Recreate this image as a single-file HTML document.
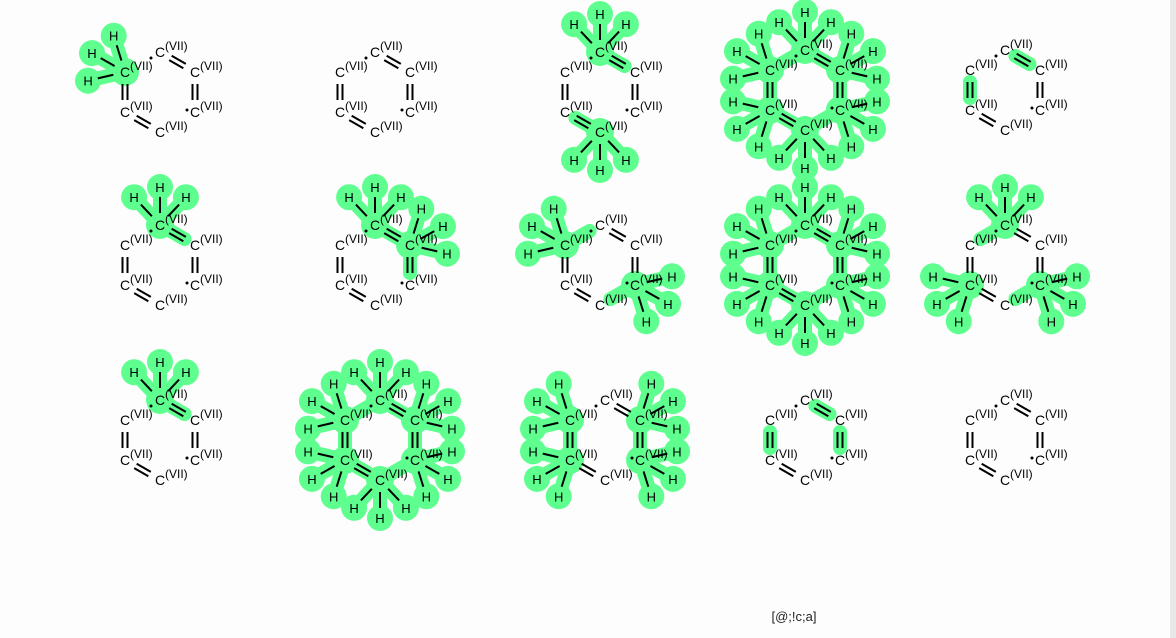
<!DOCTYPE html>
<html><head><meta charset="utf-8"><style>
html,body{margin:0;padding:0;background:#fdfdfd;}
svg{display:block;font-family:"Liberation Sans",sans-serif;}
</style></head><body>
<svg id="g" width="1176" height="638" viewBox="0 0 1176 638">
<rect x="0" y="0" width="1176" height="638" fill="#fdfdfd"/>
<rect x="1170" y="0" width="6" height="638" fill="#e8e8e8"/>
<text x="794" y="621" font-size="13" text-anchor="middle" fill="#222">[@;!c;a]</text>
</svg>
<script>
// molecule centers (column x, row y)
const centersX = [160,375,600,805,1005, 160,375,600,805,1005, 160,380,605,805,1005];
const centersY = [92,92,92,90,90, 265,265,265,265,265, 440,440,440,440,440];
// atom order: top, upper-right, lower-right, bottom, lower-left, upper-left; 1 = CH3 highlighted
const hydrogens = [
 [0,0,0,0,0,1],[0,0,0,0,0,0],[1,0,0,1,0,0],[1,1,1,1,1,1],[0,0,0,0,0,0],
 [1,0,0,0,0,0],[1,1,0,0,0,0],[0,0,1,0,0,1],[1,1,1,1,1,1],[1,0,1,0,1,0],
 [1,0,0,0,0,0],[1,1,1,1,1,1],[0,1,1,0,1,1],[0,0,0,0,0,0],[0,0,0,0,0,0]
];
// highlighted bonds (edge index i connects atom i and i+1)
const bondHi = [
 [],[],[0,3],[0,1,2,3,4,5],[0,4],
 [0],[0,1],[5,2],[0,1,2,3,4,5],[5,2],
 [0],[0,1,2,3,4,5],[1,4],[0,1,4],[]
];
const offs=[[0,-40],[35,-20],[35,20],[0,40],[-35,20],[-35,-20]];
const doubleEdges=[0,1,3,4];
const svg=document.getElementById('g');
const NS='http://www.w3.org/2000/svg';
function el(t,a,p){const e=document.createElementNS(NS,t);for(const k in a)e.setAttribute(k,a[k]);(p||svg).appendChild(e);return e;}
const G='#5eff8f';
for(let m=0;m<centersX.length;m++){
 const grp=el('g',{});
 
 
 const cx=centersX[m],cy=centersY[m];
 const P=offs.map(o=>[cx+o[0],cy+o[1]]);
 const hl=el('g',{},grp),ln=el('g',{},grp),tx=el('g',{},grp);
 for(let i=0;i<6;i++){
  const a=P[i],b=P[(i+1)%6];
  const dx=b[0]-a[0],dy=b[1]-a[1],L=Math.hypot(dx,dy),ux=dx/L,uy=dy/L,nx=-uy,ny=ux;
  const s=[a[0]+ux*12,a[1]+uy*12],e=[b[0]-ux*12,b[1]-uy*12];
  if(bondHi[m].includes(i)) el('line',{x1:s[0],y1:s[1],x2:e[0],y2:e[1],stroke:G,'stroke-width':14,'stroke-linecap':'round'},hl);
  if(doubleEdges.includes(i)){
   for(const d of [-2.5,2.5]) el('line',{x1:s[0]+nx*d,y1:s[1]+ny*d,x2:e[0]+nx*d,y2:e[1]+ny*d,stroke:'#000','stroke-width':2},ln);
  }
 }
 // radical dots
 el('circle',{cx:P[0][0]-9,cy:P[0][1]+6,r:1.5,fill:'#000'},tx);
 el('circle',{cx:P[2][0]-8,cy:P[2][1]-2,r:1.5,fill:'#000'},tx);
 for(let i=0;i<6;i++){
  const [x,y]=P[i];
  if(hydrogens[m][i]){
   el('circle',{cx:x,cy:y,r:14,fill:G},hl);
   const base=Math.atan2(y-cy,x-cx);
   for(const da of [-0.75,0,0.75]){
    const ang=base+da,hx=x+Math.cos(ang)*38,hy=y+Math.sin(ang)*38;
    el('line',{x1:x,y1:y,x2:hx,y2:hy,stroke:G,'stroke-width':14,'stroke-linecap':'round'},hl);
    el('circle',{cx:hx,cy:hy,r:13,fill:G},hl);
    el('line',{x1:x+Math.cos(ang)*12,y1:y+Math.sin(ang)*12,x2:x+Math.cos(ang)*28,y2:y+Math.sin(ang)*28,stroke:'#000','stroke-width':2},ln);
    const h=el('text',{x:hx,y:hy+5,'font-size':13,'text-anchor':'middle',fill:'#000'},tx);h.textContent='H';
   }
  }
  const t=el('text',{x:x,y:y+5,'font-size':14,'text-anchor':'middle',fill:'#000'},tx);
  t.textContent='C';
  
  
  const s=el('text',{x:x+5,y:y-2,'font-size':12,fill:'#000'},tx);s.textContent='(VII)';
 }
 svg.insertBefore(grp,svg.lastElementChild);
}
</script>
</body></html>
